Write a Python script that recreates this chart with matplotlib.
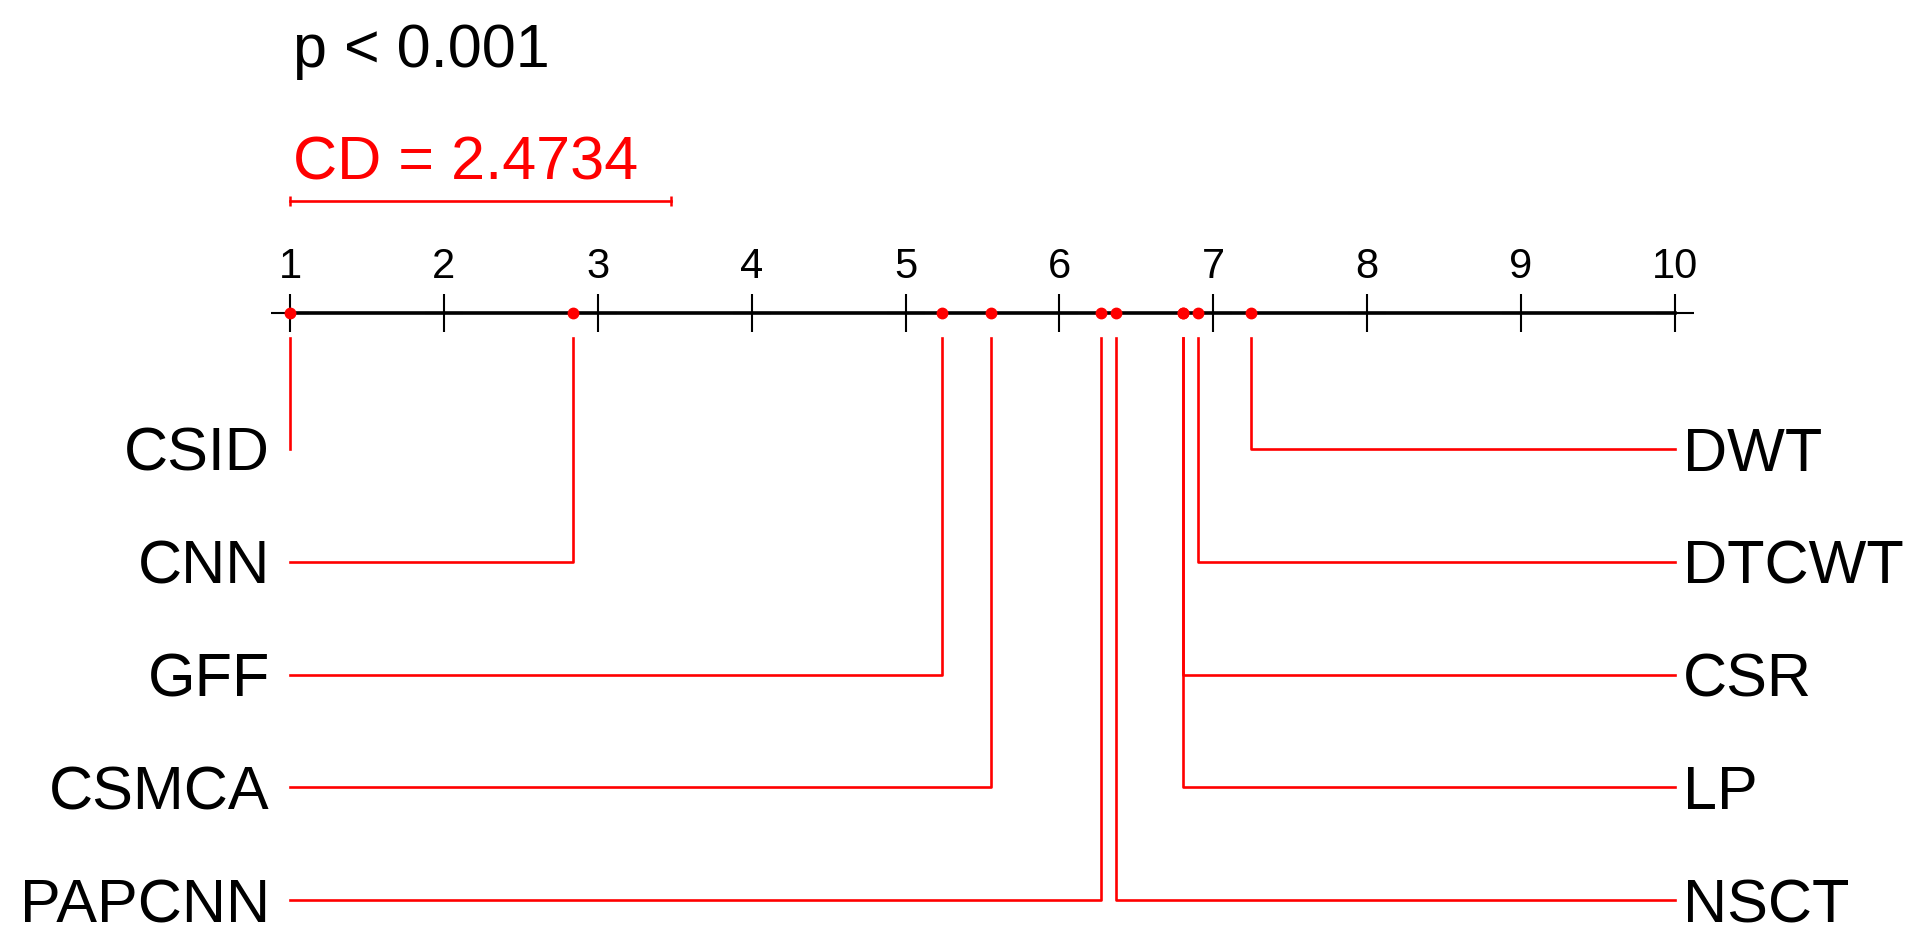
import matplotlib.pyplot as plt
from matplotlib.transforms import offset_copy

plt.rcParams['font.family'] = ['Liberation Sans', 'DejaVu Sans']

# average ranks (Nemenyi critical difference diagram)
left_names = ["CSID", "CNN", "GFF", "CSMCA", "PAPCNN"]
left_ranks = [1.0, 2.84, 5.235, 5.552, 6.267]
right_names = ["DWT", "DTCWT", "CSR", "LP", "NSCT"]
right_ranks = [7.245, 6.90, 6.80, 6.80, 6.368]
tick_vals = [1, 2, 3, 4, 5, 6, 7, 8, 9, 10]
cd = 2.4734
p_text = "p < 0.001"

W, H = 1928, 950
fig = plt.figure(figsize=(W / 100, H / 100), dpi=100)
ax = fig.add_axes([0, 0, 1, 1])
ax.axis('off')

# x in rank units, y in pixels from the top
px_per_rank = (1675 - 290) / 9
ax.set_xlim(1 - 290 / px_per_rank, 10 + (W - 1675) / px_per_rank)
ax.set_ylim(H, 0)

axis_y = 313
row0, row_step = 449, 112.8
line_top = 338

# rank axis
ax.plot([tick_vals[0], tick_vals[-1]], [axis_y, axis_y], color='black', lw=2.6, zorder=2)
ax.plot(tick_vals, [axis_y] * len(tick_vals), ls='none', marker='+', ms=27,
        mew=1.5, color='black', zorder=2)
for t in tick_vals:
    ax.text(t, 278, str(t), fontsize=30, ha='center', va='baseline')

# dots on the axis
all_ranks = left_ranks + right_ranks
ax.plot(all_ranks, [axis_y] * len(all_ranks), ls='none', marker='o', ms=7.5,
        color='red', zorder=3)

cap = 0.716 * 44 * 100 / 72

left_lbl = offset_copy(ax.transData, fig=fig, x=-20, y=0, units='dots')
right_lbl = offset_copy(ax.transData, fig=fig, x=8, y=0, units='dots')

for i, (name, r) in enumerate(zip(left_names, left_ranks)):
    y = row0 + i * row_step
    ax.plot([r, r, tick_vals[0]], [line_top, y, y], color='red', lw=1.9)
    ax.text(tick_vals[0], y + cap / 2, name, fontsize=44, ha='right', va='baseline',
            transform=left_lbl)

for i, (name, r) in enumerate(zip(right_names, right_ranks)):
    y = row0 + i * row_step
    ax.plot([r, r, tick_vals[-1]], [line_top, y, y], color='red', lw=1.9)
    ax.text(tick_vals[-1], y + cap / 2, name, fontsize=44, ha='left', va='baseline',
            transform=right_lbl)

# p value and critical difference bar
ax.text(1.02, 67, p_text, fontsize=44, ha='left', va='baseline', color='black')
ax.text(1.02, 180, "CD = %.4f" % cd, fontsize=44, ha='left', va='baseline', color='red')
ax.plot([1, 1 + cd], [201, 201], color='red', lw=1.9)
ax.plot([1, 1 + cd], [201, 201], ls='none', marker='|', ms=7, mew=1.8, color='red')

fig.savefig('out.png', dpi=100)
